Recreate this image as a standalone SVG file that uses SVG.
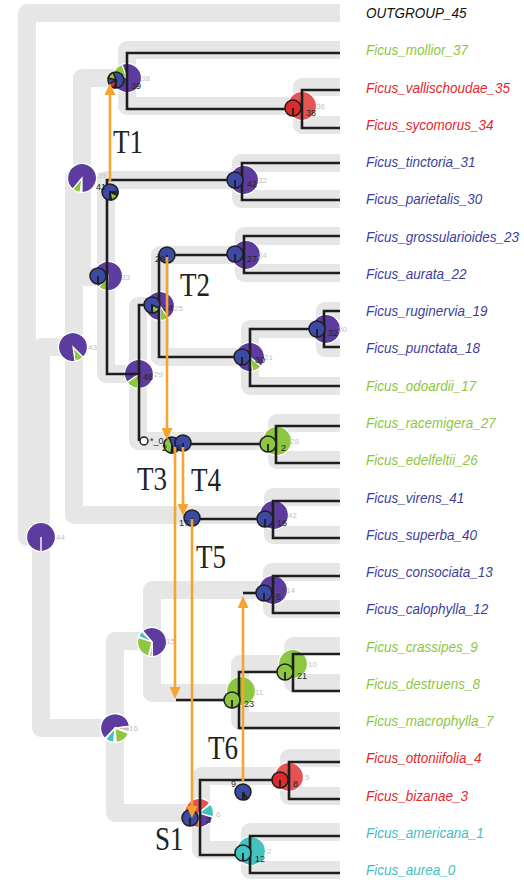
<svg xmlns="http://www.w3.org/2000/svg" width="524" height="884" viewBox="0 0 524 884">
<defs>
<style>
.tube{fill:none;stroke:#e6e6e6;stroke-width:18;stroke-linejoin:round}
.gl{fill:none;stroke:#1e1e1e;stroke-width:2.6;stroke-linejoin:miter}
.tr{fill:none;stroke:#f5a431;stroke-width:2.6;marker-end:url(#ah)}
.bp{stroke:#fff;stroke-width:1.2}
.wl{stroke:#fff;stroke-width:1.4}
.sp{stroke:#1e1e1e;stroke-width:1.5}
.tk{stroke:#1e1e1e;stroke-width:1.8}
.pu{fill:#5c3c9e}.bu{fill:#3c4aa3}.gr{fill:#8dc63f}.rb{fill:#e45454}.rs{fill:#de2a2a}.te{fill:#44c2bf}.pk{fill:#d8b6c6}
.glab{font-family:"Liberation Sans",Arial,sans-serif;font-size:8px;fill:#c2c2c2}
.nlab{font-family:"Liberation Sans",Arial,sans-serif;font-size:9px;fill:#262626}
.lab{font-family:"Liberation Sans",Arial,sans-serif;font-style:italic;font-size:13.5px}
.ev{font-family:"Liberation Serif","Times New Roman",serif;font-size:33px;fill:#222}
</style>
<marker id="ah" markerUnits="userSpaceOnUse" markerWidth="12" markerHeight="11" viewBox="0 0 12 11" refX="3" refY="5.5" orient="auto"><path d="M0,0 L12,5.5 L0,11 Z" fill="#f5a431"/></marker>
</defs>
<rect width="524" height="884" fill="#fff"/>

<g id="species-tubes">
<path class="tube" d="M340,13 H27 V537 H41"/>
<path class="tube" d="M74,347 H41 V728 H115"/>
<path class="tube" d="M82,178 H74 V515 H273"/>
<path class="tube" d="M127,78 H82 V277 H106"/>
<path class="tube" d="M340,50 H127 V106 H302"/>
<path class="tube" d="M340,87 H302 V125 H340"/>
<path class="tube" d="M241,180 H106 V374 H138"/>
<path class="tube" d="M340,163 H241 V199 H340"/>
<path class="tube" d="M160,306 H138 V441 H277"/>
<path class="tube" d="M244,255 H160 V357 H250"/>
<path class="tube" d="M340,236 H244 V273 H340"/>
<path class="tube" d="M325,329 H250 V386 H340"/>
<path class="tube" d="M340,311 H325 V348 H340"/>
<path class="tube" d="M340,423 H277 V460 H340"/>
<path class="tube" d="M340,497 H273 V535 H340"/>
<path class="tube" d="M152,641 H115 V813 H201"/>
<path class="tube" d="M272,590 H152 V693 H240"/>
<path class="tube" d="M340,572 H272 V609 H340"/>
<path class="tube" d="M293,664 H240 V721 H340"/>
<path class="tube" d="M340,646 H293 V683 H340"/>
<path class="tube" d="M289,776 H201 V850 H250"/>
<path class="tube" d="M340,758 H289 V796 H340"/>
<path class="tube" d="M340,832 H250 V870 H340"/>
</g>

<g id="species-nodes">
<g id="sn44"><circle cx="41" cy="537" r="14.5" class="pu bp"/><line x1="41" y1="537" x2="41" y2="551.5" class="wl"/><text x="56" y="540" class="glab">44</text></g>
<g id="sn43"><path class="gr bp" d="M73,347 L83.25,357.25 A14.5,14.5 0 0 1 75,361.4 Z"/><path class="pu bp" d="M73,347 L75,361.4 A14.5,14.5 0 1 1 83.25,357.25 Z"/><text x="88" y="350" class="glab">43</text></g>
<g id="sn39"><path class="pk bp" d="M82,178 L82,192.5 A14.5,14.5 0 0 1 80.2,192.4 Z"/><path class="gr bp" d="M82,178 L80.2,192.4 A14.5,14.5 0 0 1 72.7,189.1 Z"/><path class="pu bp" d="M82,178 L72.7,189.1 A14.5,14.5 0 1 1 82,192.5 Z"/><text x="97" y="178" class="glab">39</text></g>
<g id="sn38"><path class="gr bp" d="M127,78 L113.9,71.9 A14.5,14.5 0 0 1 122,64.4 Z"/><path class="pu bp" d="M127,78 L122,64.4 A14.5,14.5 0 1 1 113.9,71.9 Z"/><text x="141" y="81" class="glab">38</text></g>
<g id="sn36"><circle cx="302" cy="106" r="14.5" class="rb bp"/><line x1="302" y1="106" x2="302" y2="120.5" class="wl"/><text x="316" y="109" class="glab">36</text></g>
<g id="sn32"><circle cx="244" cy="180" r="14.5" class="pu bp"/><text x="258" y="183" class="glab">32</text></g>
<g id="sn33"><path class="gr bp" d="M108,276 L107.5,290.5 A14.5,14.5 0 0 1 98.7,287.1 Z"/><path class="pu bp" d="M108,276 L98.7,287.1 A14.5,14.5 0 1 1 107.5,290.5 Z"/><text x="121" y="280" class="glab">33</text></g>
<g id="sn29"><path class="gr bp" d="M139,374 L137.7,388.4 A14.5,14.5 0 0 1 127.1,382.3 Z"/><path class="pu bp" d="M139,374 L127.1,382.3 A14.5,14.5 0 1 1 137.7,388.4 Z"/><text x="154" y="377" class="glab">29</text></g>
<g id="sn25"><path class="gr bp" d="M160,306 L168.3,317.9 A14.5,14.5 0 0 1 160.5,320.5 Z"/><path class="pu bp" d="M160,306 L160.5,320.5 A14.5,14.5 0 1 1 168.3,317.9 Z"/><text x="174" y="311" class="glab">25</text></g>
<g id="sn24"><circle cx="246" cy="255" r="14.5" class="pu bp"/><text x="258" y="258" class="glab">24</text></g>
<g id="sn21"><path class="gr bp" d="M250,357 L261.1,366.3 A14.5,14.5 0 0 1 252.5,371.3 Z"/><path class="pu bp" d="M250,357 L252.5,371.3 A14.5,14.5 0 1 1 261.1,366.3 Z"/><text x="264" y="360" class="glab">21</text></g>
<g id="sn20"><circle cx="326" cy="329" r="14.5" class="pu bp"/><text x="338" y="332" class="glab">20</text></g>
<g id="sn28"><circle cx="277" cy="441" r="14.5" class="gr bp"/><text x="290" y="444" class="glab">28</text></g>
<g id="sn42"><circle cx="274" cy="515" r="14.5" class="pu bp"/><text x="288" y="518" class="glab">42</text></g>
<g id="sn14"><circle cx="273" cy="590" r="14.5" class="pu bp"/><text x="286" y="593" class="glab">14</text></g>
<g id="sn15"><circle cx="152" cy="642" r="15" fill="#fff"/><path class="pu bp" d="M152,642 L142.7,630.9 A14.5,14.5 0 1 1 152.5,656.5 Z"/><path class="pk bp" d="M152,642 L152.5,656.5 A14.5,14.5 0 0 1 149,656.2 Z"/><path class="gr bp" d="M152,642 L148.5,656.1 A14.5,14.5 0 0 1 138.2,637.5 Z"/><path class="te bp" d="M152,642 L138.6,636.6 A14.5,14.5 0 0 1 141.9,631.6 Z"/><text x="166" y="644" class="glab">15</text></g>
<g id="sn16"><circle cx="115" cy="728" r="15" fill="#fff"/><path class="pu bp" d="M115,728 L104.7,738.3 A14.5,14.5 0 1 1 129.4,726 Z"/><path class="pk bp" d="M115,728 L129.4,726.7 A14.5,14.5 0 0 1 129,731.8 Z"/><path class="gr bp" d="M115,728 L128.4,733.4 A14.5,14.5 0 0 1 116.3,742.4 Z"/><path class="te bp" d="M115,728 L113.7,742.4 A14.5,14.5 0 0 1 105.7,739.1 Z"/><text x="129" y="731" class="glab">16</text></g>
<g id="sn11"><circle cx="241" cy="691" r="14.5" class="gr bp"/><text x="255" y="695" class="glab">11</text></g>
<g id="sn10"><circle cx="293" cy="664" r="14.5" class="gr bp"/><text x="308" y="667" class="glab">10</text></g>
<g id="sn5"><circle cx="289" cy="777" r="14.5" class="rb bp"/><text x="305" y="780" class="glab">5</text></g>
<g id="sn6"><path class="rb bp" d="M199,813 L199,827.5 A14.5,14.5 0 1 1 209.8,803.3 Z"/><path class="te bp" d="M199,813 L210.4,804.1 A14.5,14.5 0 0 1 213,816.8 Z"/><path class="pu bp" d="M199,813 L212.8,817.5 A14.5,14.5 0 0 1 199.5,827.5 Z"/><text x="216" y="817" class="glab">6</text></g>
<g id="sn2"><circle cx="251" cy="851" r="14.5" class="te bp"/><text x="267" y="854" class="glab">2</text></g>
</g>

<g id="connectors">
<path class="gl" d="M340,53 H127 V109 H302"/>
<path class="gl" d="M340,90 H302 V128 H340"/>
<path class="gl" d="M139,374 H107 V180 H242"/>
<path class="gl" d="M340,163 H242 V200 H340"/>
<path class="gl" d="M159,305 H139 V441"/>
<path class="gl" d="M244,255 H159 V357 H250"/>
<path class="gl" d="M340,236 H244 V273 H340"/>
<path class="gl" d="M324,329 H250 V386 H340"/>
<path class="gl" d="M340,311 H324 V347 H340"/>
<path class="gl" d="M183,444 H276"/>
<path class="gl" d="M340,426 H276 V463 H340"/>
<path class="gl" d="M192,519 H273"/>
<path class="gl" d="M340,501 H273 V538 H340"/>
<path class="gl" d="M243,593 H273"/>
<path class="gl" d="M340,576 H273 V613 H340"/>
<path class="gl" d="M176,700 H239"/>
<path class="gl" d="M293,672 H239 V728 H340"/>
<path class="gl" d="M340,654 H293 V691 H340"/>
<path class="gl" d="M289,780 H200 V855 H250"/>
<path class="gl" d="M340,762 H289 V799 H340"/>
<path class="gl" d="M340,836 H250 V873 H340"/>
</g>

<g id="gene-nodes">
<g id="gn39"><circle cx="116" cy="80" r="8" class="bu sp"/><path class="rs sp" stroke-width="1" d="M116,80 L114.6,87.9 A8,8 0 0 1 109.1,84 Z"/><path class="gr sp" stroke-width="1" d="M116,80 L108.3,77.9 A8,8 0 0 1 113.3,72.5 Z"/><line x1="116" y1="80" x2="116" y2="88" class="tk"/><text x="131" y="89" class="nlab">39</text></g>
<g id="gn41"><circle cx="110" cy="192" r="8" class="bu sp"/><path class="rs sp" stroke-width="1" d="M110,192 L118,192 A8,8 0 0 1 117.5,194.7 Z"/><path class="gr sp" stroke-width="1" d="M110,192 L117.3,195.4 A8,8 0 0 1 111.4,199.9 Z"/><line x1="110" y1="192" x2="110" y2="200" class="tk"/><text x="96" y="189.5" class="nlab">41</text></g>
<g id="gn38"><circle cx="293" cy="108" r="8" class="rs sp"/><line x1="293" y1="108" x2="293" y2="116" class="tk"/><text x="306" y="116" class="nlab">38</text></g>
<g id="gnroot"><circle cx="98" cy="276" r="8" class="bu sp"/><line x1="98" y1="276" x2="98" y2="284" class="tk"/></g>
<g id="gn42"><circle cx="235" cy="180" r="8" class="bu sp"/><line x1="235" y1="180" x2="235" y2="188" class="tk"/><text x="247" y="187" class="nlab">42</text></g>
<g id="gn27"><circle cx="235" cy="254" r="8" class="bu sp"/><line x1="235" y1="254" x2="235" y2="262" class="tk"/><text x="247" y="262" class="nlab">27</text></g>
<g id="gn28"><circle cx="167" cy="255" r="8" class="bu sp"/><line x1="167" y1="255" x2="167" y2="263" class="tk"/><text x="155" y="262" class="nlab">28</text></g>
<g id="gn34"><circle cx="152" cy="305" r="8" class="bu sp"/><path class="gr sp" stroke-width="1" d="M152,305 L159.3,308.4 A8,8 0 0 1 152.7,313 Z"/><line x1="152" y1="305" x2="152" y2="313" class="tk"/><text x="163" y="311" class="nlab">34</text></g>
<g id="gn46"><text x="143" y="380" class="nlab">46</text></g>
<g id="gn30"><circle cx="242" cy="357" r="8" class="bu sp"/><line x1="242" y1="357" x2="242" y2="365" class="tk"/><text x="255" y="363" class="nlab">30</text></g>
<g id="gn32"><circle cx="317" cy="329" r="8" class="bu sp"/><line x1="317" y1="329" x2="317" y2="337" class="tk"/><text x="328" y="336" class="nlab">32</text></g>
<g id="gnloss"><circle cx="144" cy="441" r="4" fill="#fff" stroke="#1e1e1e" stroke-width="1.5"/><text x="150" y="444" class="nlab" font-size="8">*_0</text></g>
<g id="gn20"><circle cx="172" cy="445" r="8" class="bu sp"/><path class="gr sp" stroke-width="1" d="M172,445 L171.3,453 A8,8 0 0 1 169.3,437.5 Z"/><line x1="172" y1="445" x2="172" y2="453" class="tk"/><text x="162" y="451" class="nlab">2</text></g>
<g id="gn18"><circle cx="183" cy="443" r="8" class="bu sp"/><line x1="183" y1="443" x2="183" y2="451" class="tk"/><text x="176" y="451" class="nlab">8</text></g>
<g id="gn2"><circle cx="268" cy="444" r="8" class="gr sp"/><line x1="268" y1="444" x2="268" y2="452" class="tk"/><text x="281" y="451" class="nlab">2</text></g>
<g id="gn17"><circle cx="192" cy="518" r="8" class="bu sp"/><line x1="192" y1="518" x2="192" y2="526" class="tk"/><text x="179" y="526" class="nlab">17</text></g>
<g id="gn16"><circle cx="265" cy="519" r="8" class="bu sp"/><line x1="265" y1="519" x2="265" y2="527" class="tk"/><text x="277" y="526" class="nlab">16</text></g>
<g id="gn5"><circle cx="264" cy="593" r="8" class="bu sp"/><line x1="264" y1="593" x2="264" y2="601" class="tk"/><text x="276" y="600" class="nlab">5</text></g>
<g id="gn21"><circle cx="285" cy="672" r="8" class="gr sp"/><line x1="285" y1="672" x2="285" y2="680" class="tk"/><text x="297" y="679" class="nlab">21</text></g>
<g id="gn23"><circle cx="232" cy="700" r="8" class="gr sp"/><line x1="232" y1="700" x2="232" y2="708" class="tk"/><text x="244" y="707" class="nlab">23</text></g>
<g id="gn9"><circle cx="243" cy="792" r="8" class="bu sp"/><path class="rs sp" stroke-width="1" d="M243,792 L247.6,798.6 A8,8 0 0 1 245.1,799.7 Z"/><line x1="243" y1="792" x2="243" y2="800" class="tk"/><text x="231" y="787" class="nlab">9</text></g>
<g id="gn8"><circle cx="280" cy="780" r="8" class="rs sp"/><line x1="280" y1="780" x2="280" y2="788" class="tk"/><text x="293" y="787" class="nlab">8</text></g>
<g id="gn3"><circle cx="190" cy="818" r="8" class="bu sp"/><line x1="190" y1="818" x2="190" y2="826" class="tk"/><text x="206" y="823" class="nlab">3</text></g>
<g id="gn12"><circle cx="243" cy="853" r="8" class="te sp"/><line x1="243" y1="853" x2="243" y2="861" class="tk"/><text x="255" y="862" class="nlab">12</text></g>
</g>

<g id="transfers">
<path class="tr" d="M110,181 V92"/>
<path class="tr" d="M167,257 V431"/>
<path class="tr" d="M175,447 V690"/>
<path class="tr" d="M183,447 V507"/>
<path class="tr" d="M192,519 V809"/>
<path class="tr" d="M243,781 V605"/>
</g>

<g id="event-labels">
<text class="ev" transform="translate(113,153) scale(0.82,1)">T1</text>
<text class="ev" transform="translate(180,296) scale(0.82,1)">T2</text>
<text class="ev" transform="translate(137,490) scale(0.82,1)">T3</text>
<text class="ev" transform="translate(191,491) scale(0.82,1)">T4</text>
<text class="ev" transform="translate(196,568) scale(0.82,1)">T5</text>
<text class="ev" transform="translate(208,759) scale(0.82,1)">T6</text>
<text class="ev" transform="translate(155,850) scale(0.82,1)">S1</text>
</g>

<g id="tips">
<g id="tip45"><text class="lab" fill="#111" transform="translate(366,18) scale(1,1.13)">OUTGROUP_45</text></g>
<g id="tip37"><text class="lab" fill="#8dc63f" transform="translate(366,55.3) scale(1,1.13)">Ficus_mollior_37</text></g>
<g id="tip35"><text class="lab" fill="#e6262d" transform="translate(366,92.5) scale(1,1.13)">Ficus_vallischoudae_35</text></g>
<g id="tip34"><text class="lab" fill="#e6262d" transform="translate(366,129.8) scale(1,1.13)">Ficus_sycomorus_34</text></g>
<g id="tip31"><text class="lab" fill="#3d3f9b" transform="translate(366,167.1) scale(1,1.13)">Ficus_tinctoria_31</text></g>
<g id="tip30"><text class="lab" fill="#3d3f9b" transform="translate(366,204.4) scale(1,1.13)">Ficus_parietalis_30</text></g>
<g id="tip23"><text class="lab" fill="#3d3f9b" transform="translate(366,241.6) scale(1,1.13)">Ficus_grossularioides_23</text></g>
<g id="tip22"><text class="lab" fill="#3d3f9b" transform="translate(366,278.9) scale(1,1.13)">Ficus_aurata_22</text></g>
<g id="tip19"><text class="lab" fill="#3d3f9b" transform="translate(366,316.2) scale(1,1.13)">Ficus_ruginervia_19</text></g>
<g id="tip18"><text class="lab" fill="#3d3f9b" transform="translate(366,353.4) scale(1,1.13)">Ficus_punctata_18</text></g>
<g id="tip17"><text class="lab" fill="#8dc63f" transform="translate(366,390.7) scale(1,1.13)">Ficus_odoardii_17</text></g>
<g id="tip27"><text class="lab" fill="#8dc63f" transform="translate(366,428) scale(1,1.13)">Ficus_racemigera_27</text></g>
<g id="tip26"><text class="lab" fill="#8dc63f" transform="translate(366,465.2) scale(1,1.13)">Ficus_edelfeltii_26</text></g>
<g id="tip41"><text class="lab" fill="#3d3f9b" transform="translate(366,502.5) scale(1,1.13)">Ficus_virens_41</text></g>
<g id="tip40"><text class="lab" fill="#3d3f9b" transform="translate(366,539.8) scale(1,1.13)">Ficus_superba_40</text></g>
<g id="tip13"><text class="lab" fill="#3d3f9b" transform="translate(366,577) scale(1,1.13)">Ficus_consociata_13</text></g>
<g id="tip12"><text class="lab" fill="#3d3f9b" transform="translate(366,614.3) scale(1,1.13)">Ficus_calophylla_12</text></g>
<g id="tip9"><text class="lab" fill="#8dc63f" transform="translate(366,651.6) scale(1,1.13)">Ficus_crassipes_9</text></g>
<g id="tip8"><text class="lab" fill="#8dc63f" transform="translate(366,688.9) scale(1,1.13)">Ficus_destruens_8</text></g>
<g id="tip7"><text class="lab" fill="#8dc63f" transform="translate(366,726.1) scale(1,1.13)">Ficus_macrophylla_7</text></g>
<g id="tip4"><text class="lab" fill="#e6262d" transform="translate(366,763.4) scale(1,1.13)">Ficus_ottoniifolia_4</text></g>
<g id="tip3"><text class="lab" fill="#e6262d" transform="translate(366,800.7) scale(1,1.13)">Ficus_bizanae_3</text></g>
<g id="tip1"><text class="lab" fill="#3fc0bd" transform="translate(366,837.9) scale(1,1.13)">Ficus_americana_1</text></g>
<g id="tip0"><text class="lab" fill="#3fc0bd" transform="translate(366,875.2) scale(1,1.13)">Ficus_aurea_0</text></g>
</g>
</svg>
